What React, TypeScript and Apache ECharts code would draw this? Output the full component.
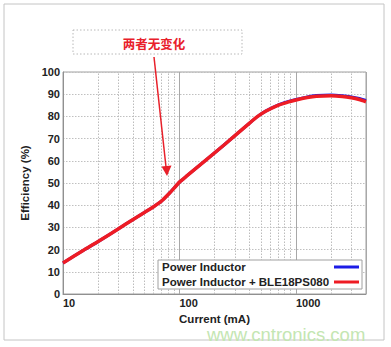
import React, { useEffect, useRef } from "react";
import * as echarts from "echarts";

const currents = [10, 15, 20, 30, 40, 50, 60, 70, 80, 90, 100, 117, 240, 400, 470, 550, 700, 850, 1000, 1250, 1500, 2000, 2500, 3000, 3500, 4000];
const effPower = [14, 19.7, 23.6, 29.4, 33.6, 36.7, 39.3, 41.8, 44.8, 47.7, 50.4, 53.4, 67, 77, 80, 82.4, 85.1, 86.6, 87.6, 88.8, 89.4, 89.6, 89.3, 88.8, 88.1, 87.2];
const effPowerBle = [14, 19.7, 23.6, 29.4, 33.6, 36.7, 39.3, 41.8, 44.8, 47.7, 50.4, 53.4, 67, 77, 80, 82.3, 85, 86.4, 87.4, 88.5, 89.1, 89.3, 89, 88.4, 87.6, 86.6];
const minorTicks = [20, 30, 40, 50, 60, 70, 80, 90, 200, 300, 400, 500, 600, 700, 800, 900, 2000, 3000];
const seriesNames = ["Power Inductor", "Power Inductor + BLE18PS080"];
const annotationText = "两者无变化";
const watermark = "www.cntronics.com";

const FONT = "'Liberation Sans', Arial, sans-serif";

export default function App() {
  const ref = useRef<HTMLDivElement>(null);
  useEffect(() => {
    document.body.style.margin = "0";
    const chart = echarts.init(ref.current!, null, { renderer: "svg" });
    const toPairs = (ys: number[]) => currents.map((c, i) => [c, ys[i]]);
    chart.setOption({
      animation: false,
      backgroundColor: "#ffffff",
      textStyle: { fontFamily: FONT },
      grid: { left: 63, top: 72, right: 25, bottom: 53, show: true, borderColor: "#a0a0a0", borderWidth: 1 },
      xAxis: {
        type: "log",
        logBase: 10,
        min: 10,
        max: 4000,
        name: "Current (mA)",
        nameLocation: "middle",
        nameGap: 17,
        nameTextStyle: { fontSize: 11.5, fontWeight: "bold", color: "#222", fontFamily: FONT, lineHeight: 11 },
        axisLine: { lineStyle: { color: "#909090" } },
        axisTick: { show: false },
        axisLabel: {
          align: "left",
          margin: 3,
          fontSize: 11,
          fontWeight: "bold",
          color: "#222",
          fontFamily: FONT,
          formatter: (v: number) => ([10, 100, 1000].includes(Math.round(v)) ? String(Math.round(v)) : ""),
        },
        splitLine: { show: true, lineStyle: { color: "#a8a8a8", width: 1 } },
      },
      yAxis: {
        type: "value",
        min: 0,
        max: 100,
        interval: 10,
        name: "Efficiency (%)",
        nameLocation: "middle",
        nameRotate: 90,
        nameGap: 25,
        nameTextStyle: { fontSize: 11.5, fontWeight: "bold", color: "#222", fontFamily: FONT },
        axisLine: { show: true, lineStyle: { color: "#909090" } },
        axisTick: { show: false },
        axisLabel: { margin: 3, fontSize: 11, fontWeight: "bold", color: "#222", fontFamily: FONT },
        splitLine: { show: true, lineStyle: { color: "#c0c0c0", type: [1.5, 1.5], width: 1 } },
      },
      legend: {
        left: 158,
        top: 260,
        orient: "vertical",
        align: "right",
        padding: [1, 3, 1, 4],
        itemGap: 3,
        itemWidth: 25,
        itemHeight: 3,
        icon: "rect",
        backgroundColor: "#ffffff",
        borderColor: "#a0a0a0",
        borderWidth: 1,
        borderRadius: 0,
        formatter: (name: string) => `{t|${name}}`,
        textStyle: {
          fontSize: 11.5,
          fontWeight: "bold",
          color: "#222",
          fontFamily: FONT,
          rich: {
            t: { width: 167, align: "left", fontSize: 11.5, fontWeight: "bold", color: "#222", fontFamily: FONT, lineHeight: 12 },
          },
        },
        data: seriesNames,
      },
      series: [
        {
          name: seriesNames[0],
          type: "line",
          data: toPairs(effPower),
          showSymbol: false,
          smooth: 0.2,
          lineStyle: { color: "#1c1ce6", width: 3 },
          itemStyle: { color: "#1c1ce6" },
          z: 2,
          markLine: {
            silent: true,
            symbol: "none",
            label: { show: false },
            lineStyle: { color: "#bcbcbc", type: [1.5, 1.5], width: 1 },
            data: minorTicks.map((v) => ({ xAxis: v })),
            z: 1,
          },
        },
        {
          name: seriesNames[1],
          type: "line",
          data: toPairs(effPowerBle),
          showSymbol: false,
          smooth: 0.2,
          lineStyle: { color: "#ee1c24", width: 3.5 },
          itemStyle: { color: "#ee1c24" },
          z: 3,
        },
      ],
      graphic: [
        {
          type: "rect",
          shape: { x: 4, y: 4, width: 380, height: 336 },
          style: { fill: "none", stroke: "#c4c4c4", lineWidth: 1 },
          z: 0,
        },
        {
          type: "rect",
          shape: { x: 73, y: 30, width: 169, height: 24 },
          style: { fill: "none", stroke: "#b8b8b8", lineWidth: 1, lineDash: [1.5, 2] },
        },
        {
          type: "text",
          x: 154,
          y: 43,
          style: {
            text: annotationText,
            fill: "#e8202a",
            font: "bold 12.5px 'Noto Sans CJK SC', sans-serif",
            align: "center",
            verticalAlign: "middle",
          },
        },
        {
          type: "line",
          shape: { x1: 154, y1: 57, x2: 166, y2: 167 },
          style: { stroke: "#e8202a", lineWidth: 1.5 },
          z: 10,
        },
        {
          type: "polygon",
          shape: { points: [[167, 176], [171.5, 165.5], [161.5, 166.5]] },
          style: { fill: "#e8202a" },
          z: 10,
        },
        {
          type: "text",
          x: 207,
          y: 334,
          style: {
            text: watermark,
            fill: "#c4e6b2",
            font: "18.5px 'Liberation Sans', Arial, sans-serif",
            lineHeight: 13,
            align: "left",
            verticalAlign: "middle",
          },
          z: 10,
        },
      ],
    });
    return () => chart.dispose();
  }, []);
  return <div ref={ref} style={{ width: 391, height: 347 }} />;
}
